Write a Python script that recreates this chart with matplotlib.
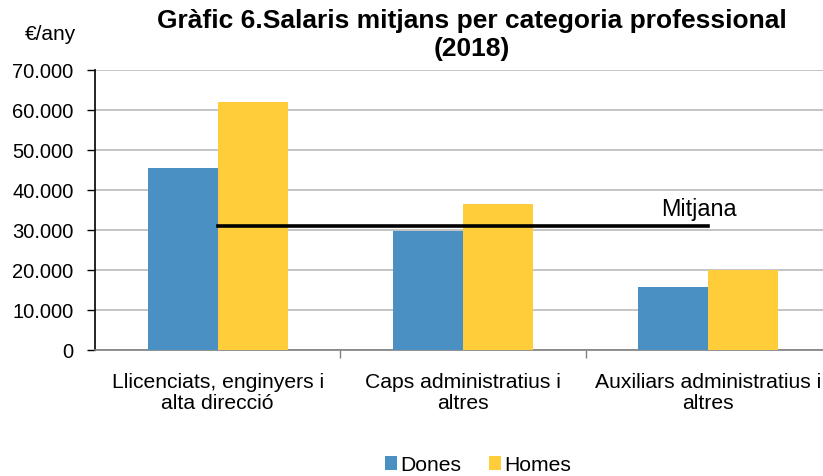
import matplotlib
matplotlib.use("Agg")
import matplotlib.pyplot as plt
import numpy as np

plt.rcParams['font.family'] = ['Liberation Sans', 'DejaVu Sans']

categories = ["Llicenciats, enginyers i\nalta direcció",
              "Caps administratius i\naltres",
              "Auxiliars administratius i\naltres"]
dones = [45500, 29700, 15800]
homes = [62000, 36500, 20000]
mitjana = 30900
yticks = [0, 10000, 20000, 30000, 40000, 50000, 60000, 70000]
ytick_labels = ["0", "10.000", "20.000", "30.000", "40.000", "50.000", "60.000", "70.000"]

blue = "#4a90c2"
yellow = "#ffcd3a"

fig = plt.figure(figsize=(8.23, 4.77), dpi=100)
ax = fig.add_axes([95/823, 126/477, 736/823, 280/477])

x = np.arange(len(categories))
w = 0.285
ax.bar(x - w/2, dones, width=w, color=blue, label="Dones", zorder=3)
ax.bar(x + w/2, homes, width=w, color=yellow, label="Homes", zorder=3)

ax.plot([x[0], x[-1]], [mitjana, mitjana], color="black", lw=2.6, zorder=4)
ax.text(1.96, 35300, "Mitjana", fontsize=16.8, ha="center", va="center", zorder=5)

ax.set_xlim(-0.5, 2.5)
ax.set_ylim(0, 70000)
ax.set_yticks(yticks)
ax.set_yticklabels(ytick_labels, fontsize=14.5)
ax.yaxis.grid(True, color="#bfbfbf", lw=1.3, zorder=0)
ax.set_axisbelow(True)

ax.set_xticks(x)
ax.set_xticklabels(categories, fontsize=15.2, multialignment="center", linespacing=1.1)
ax.tick_params(axis="x", length=0, pad=16)
ax.set_xticks([0.5, 1.5], minor=True)
ax.tick_params(axis="x", which="minor", length=6, color="#808080", width=1)
ax.tick_params(axis="y", length=5.5, width=1, color="black", pad=10)

for s in ["top", "right"]:
    ax.spines[s].set_visible(False)
ax.spines["left"].set_color("black")
ax.spines["left"].set_linewidth(1.2)
ax.spines["bottom"].set_color("#808080")
ax.spines["bottom"].set_linewidth(1.2)

fig.text(472/823, 1 - 35/477, "Gràfic 6.Salaris mitjans per categoria professional\n(2018)",
         fontsize=19, fontweight="bold", ha="center", va="center", linespacing=1.25)
fig.text(50/823, 1 - 34/477, "€/any", fontsize=15, ha="center", va="center")

handles, labels = ax.get_legend_handles_labels()
leg = fig.legend(handles, labels, loc="center", bbox_to_anchor=(478/823, 1 - 466/477),
                 ncol=2, frameon=False, fontsize=15.2, handlelength=0.6, handleheight=0.6,
                 handletextpad=0.15, columnspacing=1.3)

fig.savefig("out.png", dpi=100)
